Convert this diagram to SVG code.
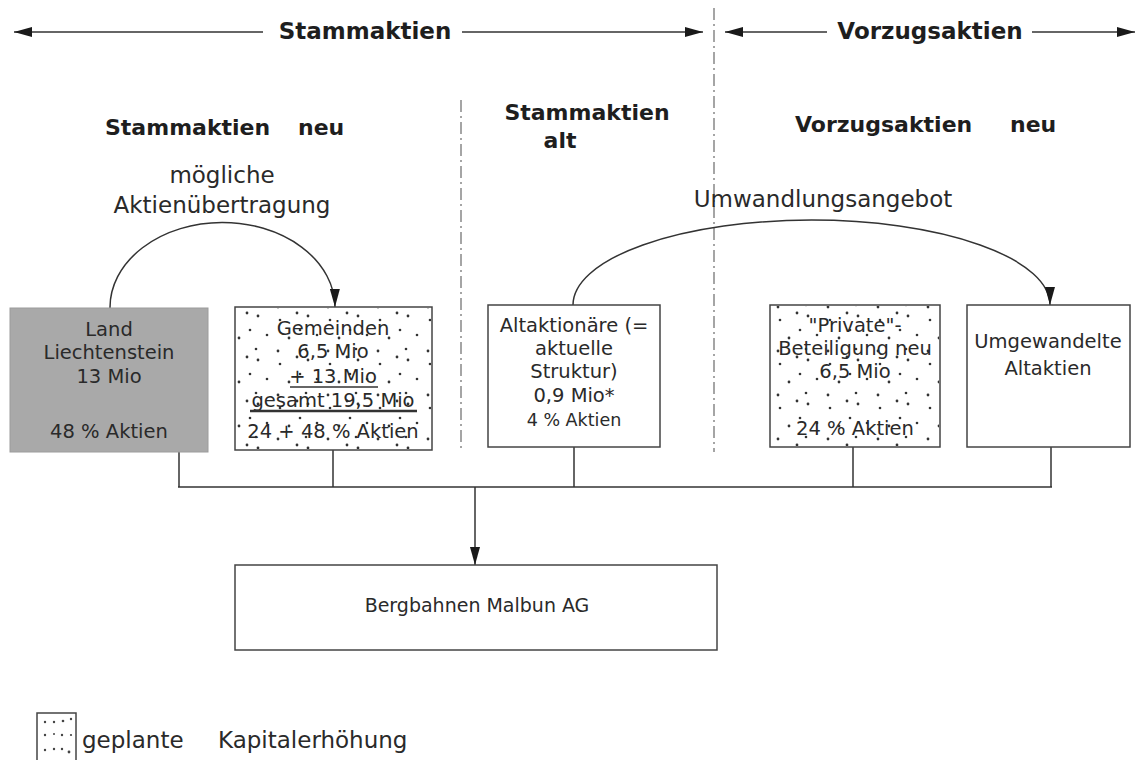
<svg xmlns="http://www.w3.org/2000/svg" width="1138" height="760" viewBox="0 0 1138 760">
<defs>
<pattern id="dots" width="50" height="44" patternUnits="userSpaceOnUse" x="3" y="2">
<circle cx="5" cy="6" r="1.4" fill="#333"/>
<circle cx="27" cy="10" r="1.3" fill="#333"/>
<circle cx="44" cy="3" r="1.4" fill="#333"/>
<circle cx="14" cy="25" r="1.3" fill="#333"/>
<circle cx="36" cy="28" r="1.4" fill="#333"/>
<circle cx="3" cy="39" r="1.3" fill="#333"/>
<circle cx="25" cy="41" r="1.4" fill="#333"/>
<circle cx="47" cy="20" r="1.3" fill="#333"/>
</pattern>
<marker id="ah" viewBox="0 0 18 10" refX="18" refY="5" markerWidth="18" markerHeight="10" markerUnits="userSpaceOnUse" orient="auto-start-reverse">
<path d="M0,0 L18,5 L0,10 z" fill="#1a1a1a"/>
</marker>
<style>
.t{font-family:"DejaVu Sans",Verdana,sans-serif;fill:#2a2a2a}
.b{font-family:"DejaVu Sans",Verdana,sans-serif;font-weight:bold;fill:#1e1e1e}
.bx{font-size:19.5px;text-anchor:middle}
.box{fill:#fff;stroke:#444;stroke-width:1.5}
.ln{stroke:#333;stroke-width:1.5;fill:none}
.dd{stroke:#888;stroke-width:1.5;stroke-dasharray:12 4 2 4;fill:none}
.ld{fill:#444}
</style>
</defs>

<g id="header">
<line class="ln" x1="14" y1="32" x2="263" y2="32" marker-start="url(#ah)"/>
<line class="ln" x1="462" y1="32" x2="703" y2="32" marker-end="url(#ah)"/>
<text class="b" x="365" y="39" font-size="23" text-anchor="middle">Stammaktien</text>
<line class="ln" x1="725" y1="32" x2="827" y2="32" marker-start="url(#ah)"/>
<line class="ln" x1="1032" y1="32" x2="1135" y2="32" marker-end="url(#ah)"/>
<text class="b" x="930" y="39" font-size="23" text-anchor="middle">Vorzugsaktien</text>
<line class="dd" x1="714" y1="8" x2="714" y2="452"/>
<line class="dd" x1="461" y1="100" x2="461" y2="452"/>
</g>

<g id="headings">
<text class="b" x="105" y="135" font-size="22">Stammaktien</text>
<text class="b" x="298" y="135" font-size="22">neu</text>
<text class="b" x="587" y="120" font-size="22" text-anchor="middle">Stammaktien</text>
<text class="b" x="560" y="148" font-size="22" text-anchor="middle">alt</text>
<text class="b" x="795" y="132" font-size="22">Vorzugsaktien</text>
<text class="b" x="1010" y="132" font-size="22">neu</text>
</g>

<g id="connectors">
<path class="ln" d="M110,308 A112.5,85 0 0 1 335,307" marker-end="url(#ah)"/>
<text class="t" x="222" y="183" font-size="23" text-anchor="middle">mögliche</text>
<text class="t" x="222" y="213" font-size="23" text-anchor="middle">Aktienübertragung</text>
<path class="ln" d="M573,305 A238.5,85 0 0 1 1050,305" marker-end="url(#ah)"/>
<text class="t" x="823" y="207" font-size="23" text-anchor="middle">Umwandlungsangebot</text>
<line class="ln" x1="179" y1="452" x2="179" y2="487"/>
<line class="ln" x1="333" y1="450" x2="333" y2="487"/>
<line class="ln" x1="574" y1="447" x2="574" y2="487"/>
<line class="ln" x1="853" y1="447" x2="853" y2="487"/>
<line class="ln" x1="1051" y1="447" x2="1051" y2="487"/>
<line class="ln" x1="178" y1="487" x2="1052" y2="487"/>
<line class="ln" x1="475" y1="487" x2="475" y2="565" marker-end="url(#ah)"/>
</g>

<g id="land">
<rect x="10" y="308" width="198" height="144" fill="#a9a9a9" stroke="#9c9c9c" stroke-width="1"/>
<text class="t bx" x="109" y="336">Land</text>
<text class="t bx" x="109" y="359">Liechtenstein</text>
<text class="t bx" x="109" y="383">13 Mio</text>
<text class="t bx" x="109" y="438">48 % Aktien</text>
</g>

<g id="gemeinden">
<rect class="box" x="235" y="307" width="197" height="143"/>
<rect x="236" y="308" width="195" height="141" fill="url(#dots)"/>
<text class="t bx" x="333" y="335">Gemeinden</text>
<text class="t bx" x="333" y="358">6,5 Mio</text>
<text class="t bx" x="333" y="383">+ 13 Mio</text>
<line x1="290" y1="387" x2="378" y2="387" stroke="#333" stroke-width="1.3"/>
<text class="t bx" x="333" y="407">gesamt 19,5 Mio</text>
<line x1="250" y1="411" x2="417" y2="411" stroke="#333" stroke-width="2.5"/>
<text class="t bx" x="333" y="438">24 + 48 % Aktien</text>
</g>

<g id="altaktionaere">
<rect class="box" x="488" y="305" width="172" height="142"/>
<text class="t bx" x="574" y="332">Altaktionäre (=</text>
<text class="t bx" x="574" y="355">aktuelle</text>
<text class="t bx" x="574" y="378">Struktur)</text>
<text class="t bx" x="574" y="402">0,9 Mio*</text>
<text class="t bx" x="574" y="426" style="font-size:17.5px">4 % Aktien</text>
</g>

<g id="private">
<rect class="box" x="770" y="305" width="170" height="142"/>
<rect x="771" y="306" width="168" height="140" fill="url(#dots)"/>
<text class="t bx" x="855" y="332">"Private"-</text>
<text class="t bx" x="855" y="355">Beteiligung neu</text>
<text class="t bx" x="855" y="378">6,5 Mio</text>
<text class="t bx" x="855" y="435">24 % Aktien</text>
</g>

<g id="umgewandelte">
<rect class="box" x="967" y="305" width="163" height="142"/>
<text class="t bx" x="1048" y="348">Umgewandelte</text>
<text class="t bx" x="1048" y="375">Altaktien</text>
</g>

<g id="bergbahnen">
<rect class="box" x="235" y="565" width="482" height="85"/>
<text class="t bx" x="477" y="612" style="font-size:19px">Bergbahnen Malbun AG</text>
</g>

<g id="legend">
<rect class="box" x="37" y="713" width="39" height="50"/>
<circle class="ld" cx="45" cy="722" r="1.2"/>
<circle class="ld" cx="54" cy="722" r="1.2"/>
<circle class="ld" cx="63" cy="721" r="1.3"/>
<circle class="ld" cx="71" cy="719" r="1.2"/>
<circle class="ld" cx="45" cy="735" r="1.2"/>
<circle class="ld" cx="54" cy="734" r="1"/>
<circle class="ld" cx="62" cy="735" r="1.2"/>
<circle class="ld" cx="71" cy="735" r="1.1"/>
<circle class="ld" cx="45" cy="750" r="1.2"/>
<circle class="ld" cx="54" cy="749" r="1.2"/>
<circle class="ld" cx="62" cy="749" r="1.2"/>
<circle class="ld" cx="69" cy="752" r="1.4"/>
<text class="t" x="82" y="748" font-size="23">geplante</text>
<text class="t" x="218" y="748" font-size="23">Kapitalerhöhung</text>
</g>
</svg>
